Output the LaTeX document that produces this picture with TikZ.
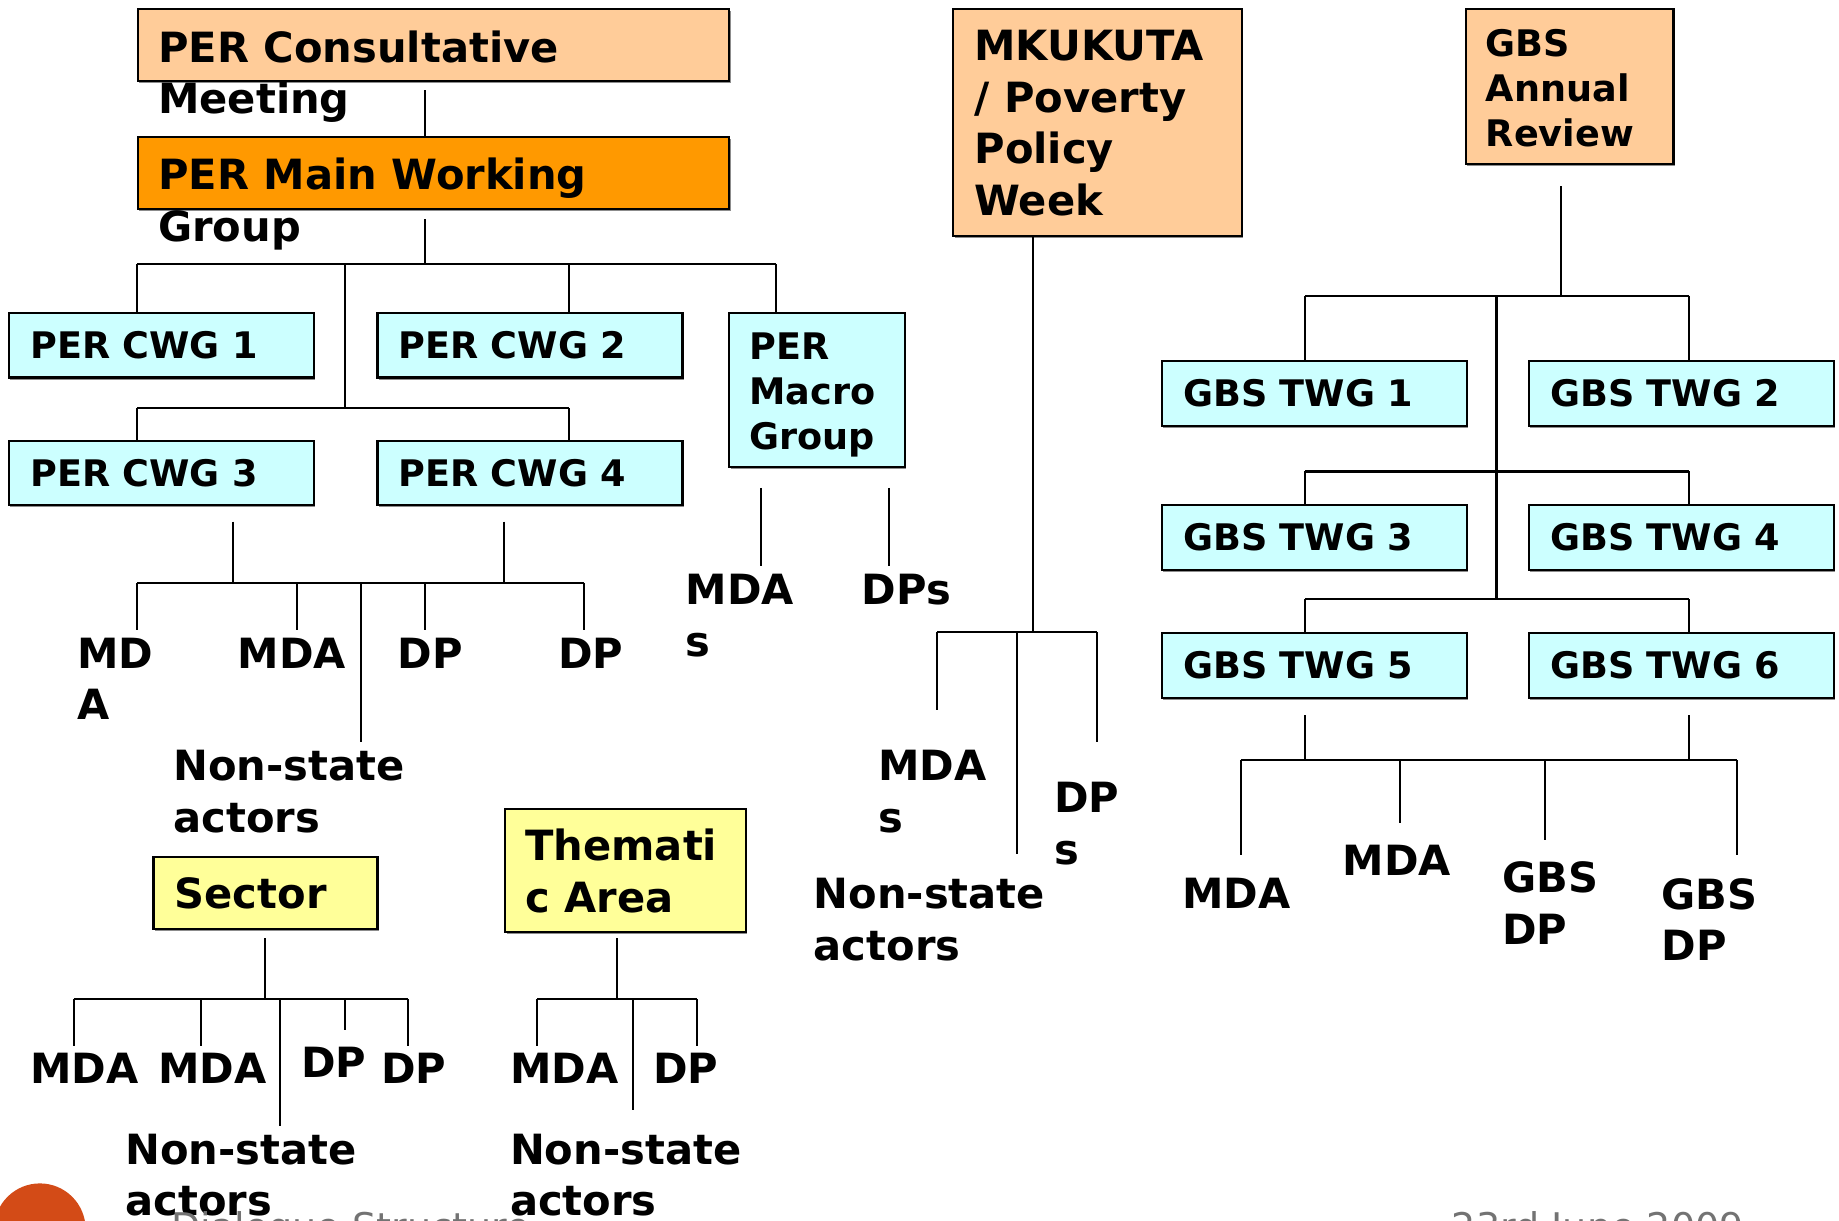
\documentclass[tikz,border=0pt]{standalone}
\usepackage{fontspec}
\setmainfont{DejaVu Sans}
\usetikzlibrary{shadows}
\definecolor{peach}{RGB}{255,204,153}
\definecolor{amber}{RGB}{255,153,0}
\definecolor{aqua}{RGB}{204,255,255}
\definecolor{lemon}{RGB}{255,255,153}
\definecolor{rust}{RGB}{211,75,23}

\begin{document}
\begin{tikzpicture}[x=1pt,y=-1pt,line width=1.8pt,
blk/.style={draw=black,line width=1.8pt,anchor=north west,inner sep=0pt,
  drop shadow={shadow xshift=1pt,shadow yshift=-1.8pt,fill=black!45,opacity=1}},
bigtxt/.style={font=\bfseries\fontsize{35.5}{44}\selectfont},
smalltxt/.style={font=\bfseries\fontsize{31.2}{38.5}\selectfont},
txt/.style={inner sep=0pt,anchor=north west,align=left},
twg/.style={blk,smalltxt,fill=aqua,text width=224pt,inner xsep=18pt,minimum height=55pt,align=left},
foot/.style={txt,font=\fontsize{32.5}{38}\selectfont,text=black!55}
]
\useasboundingbox (0,0) rectangle (1568,1041);
\clip (0,0) rectangle (1568,1041);

% top level boxes
\node[blk,fill=peach,minimum width=504pt,minimum height=61pt] (consult) at (117,7) {};
\node[txt,bigtxt] (consult-t) at (134,25) {PER Consultative\\Meeting};
\node[blk,fill=amber,minimum width=504pt,minimum height=61pt] (main) at (117,116) {};
\node[txt,bigtxt] (main-t) at (134,134) {PER Main Working\\Group};
\node[blk,fill=peach,minimum width=246pt,minimum height=193pt] (mkukuta) at (812,7) {};
\node[txt,bigtxt] (mkukuta-t) at (830,25) {MKUKUTA\\/ Poverty\\Policy\\Week};
\node[blk,fill=peach,minimum width=177pt,minimum height=132pt] (gbsar) at (1249,7) {};
\node[txt,smalltxt] (gbsar-t) at (1266,24) {GBS\\Annual\\Review};

% working groups
\node[twg] (cwg1) at (7,266) {PER CWG 1};
\node[twg] (cwg2) at (321,266) {PER CWG 2};
\node[twg] (cwg3) at (7,375) {PER CWG 3};
\node[twg] (cwg4) at (321,375) {PER CWG 4};
\node[blk,fill=aqua,minimum width=150pt,minimum height=131pt] (macro) at (621,266) {};
\node[txt,smalltxt] (macro-t) at (638,283) {PER\\Macro\\Group};
\node[twg] (twg1) at (990,307) {GBS TWG 1};
\node[twg] (twg2) at (1303,307) {GBS TWG 2};
\node[twg] (twg3) at (990,430) {GBS TWG 3};
\node[twg] (twg4) at (1303,430) {GBS TWG 4};
\node[twg] (twg5) at (990,539) {GBS TWG 5};
\node[twg] (twg6) at (1303,539) {GBS TWG 6};
\node[blk,bigtxt,fill=lemon,text width=155pt,inner xsep=18pt,minimum height=61pt,align=left] (sector) at (130,730) {Sector};
\node[blk,fill=lemon,minimum width=205pt,minimum height=105pt] (thema) at (430,689) {};
\node[txt,bigtxt] (thema-t) at (447,706) {Themati\\c Area};

% members
\node[txt,bigtxt] (mda1) at (65,543) {MD\\A};
\node[txt,bigtxt] (mda2) at (202,543) {MDA};
\node[txt,bigtxt] (dp1) at (338,543) {DP};
\node[txt,bigtxt] (dp2) at (475,543) {DP};
\node[txt,bigtxt] (nsa1) at (147,639) {Non-state\\actors};
\node[txt,bigtxt] (macro-mda) at (584,489) {MDA\\s};
\node[txt,bigtxt] (macro-dp) at (734,489) {DPs};
\node[txt,bigtxt] (mk-mda) at (748,639) {MDA\\s};
\node[txt,bigtxt] (mk-dp) at (898,666) {DP\\s};
\node[txt,bigtxt] (mk-nsa) at (693,748) {Non-state\\actors};
\node[txt,bigtxt] (gbs-mda1) at (1007,748) {MDA};
\node[txt,bigtxt] (gbs-mda2) at (1144,720) {MDA};
\node[txt,bigtxt] (gbs-dp1) at (1280,734) {GBS\\DP};
\node[txt,bigtxt] (gbs-dp2) at (1416,748) {GBS\\DP};
\node[txt,bigtxt] (sec-mda1) at (25,897) {MDA};
\node[txt,bigtxt] (sec-mda2) at (134,897) {MDA};
\node[txt,bigtxt] (sec-dp1) at (256,892) {DP};
\node[txt,bigtxt] (sec-dp2) at (324,897) {DP};
\node[txt,bigtxt] (sec-nsa) at (106,966) {Non-state\\actors};
\node[txt,bigtxt] (th-mda) at (434,897) {MDA};
\node[txt,bigtxt] (th-dp) at (556,897) {DP};
\node[txt,bigtxt] (th-nsa) at (434,966) {Non-state\\actors};

% PER tree
\coordinate (perbus) at (362,225);
\draw[shorten <=7pt] (consult.south -| perbus) -- (main.north -| perbus);
\draw[shorten <=8pt] (main.south -| perbus) -- (perbus);
\coordinate (p1) at (117,225);
\coordinate (p2) at (294,225);
\coordinate (p3) at (485,225);
\coordinate (p4) at (662,225);
\draw (p1) -- (p4);
\draw (p1) -- (p1 |- cwg1.north);
\draw (p3) -- (p3 |- cwg2.north);
\draw (p4) -- (p4 |- macro.north);
\coordinate (q1) at (117,348);
\coordinate (q2) at (294,348);
\coordinate (q3) at (485,348);
\draw (p2) -- (q2);
\draw (q1) -- (q3);
\draw (q1) -- (q1 |- cwg3.north);
\draw (q3) -- (q3 |- cwg4.north);

% CWG 3 and 4 members
\coordinate (c1) at (199,497);
\coordinate (c2) at (430,497);
\draw[shorten <=13pt] (cwg3.south -| c1) -- (c1);
\draw[shorten <=13pt] (cwg4.south -| c2) -- (c2);
\coordinate (s1) at (117,497);
\coordinate (s2) at (253,497);
\coordinate (s3) at (308,497);
\coordinate (s4) at (362,497);
\coordinate (s5) at (498,497);
\draw (s1) -- (s5);
\draw[shorten >=6pt] (s1) -- (s1 |- mda1.north);
\draw[shorten >=6pt] (s2) -- (s2 |- mda2.north);
\draw[shorten >=6pt] (s3) -- (s3 |- nsa1.north);
\draw[shorten >=6pt] (s4) -- (s4 |- dp1.north);
\draw[shorten >=6pt] (s5) -- (s5 |- dp2.north);

% macro group members
\coordinate (m1) at (649,416);
\coordinate (m2) at (758,416);
\draw[shorten >=6pt] (m1) -- (m1 |- macro-mda.north);
\draw[shorten >=6pt] (m2) -- (m2 |- macro-dp.north);

% MKUKUTA tree
\coordinate (k0) at (881,539);
\coordinate (k1) at (799,539);
\coordinate (k2) at (867,539);
\coordinate (k3) at (935,539);
\draw (mkukuta.south -| k0) -- (k0);
\draw (k1) -- (k3);
\draw[shorten >=34pt] (k1) -- (k1 |- mk-mda.north);
\draw[shorten >=20pt] (k2) -- (k2 |- mk-nsa.north);
\draw[shorten >=33pt] (k3) -- (k3 |- mk-dp.north);

% GBS tree
\coordinate (g0) at (1331,252);
\coordinate (g1) at (1113,252);
\coordinate (g2) at (1276,252);
\coordinate (g3) at (1440,252);
\draw[shorten <=18pt] (gbsar.south -| g0) -- (g0);
\draw (g1) -- (g3);
\draw (g1) -- (g1 |- twg1.north);
\draw (g3) -- (g3 |- twg2.north);
\coordinate (h1) at (1113,402);
\coordinate (h3) at (1440,402);
\coordinate (i1) at (1113,511);
\coordinate (i2) at (1276,511);
\coordinate (i3) at (1440,511);
\draw (g2) -- (i2);
\draw (h1) -- (h3);
\draw (h1) -- (h1 |- twg3.north);
\draw (h3) -- (h3 |- twg4.north);
\draw (i1) -- (i3);
\draw (i1) -- (i1 |- twg5.north);
\draw (i3) -- (i3 |- twg6.north);

% GBS TWG 5 and 6 members
\coordinate (t1) at (1113,648);
\coordinate (t2) at (1440,648);
\draw[shorten <=14pt] (twg5.south -| t1) -- (t1);
\draw[shorten <=14pt] (twg6.south -| t2) -- (t2);
\coordinate (u1) at (1058,648);
\coordinate (u2) at (1194,648);
\coordinate (u3) at (1317,648);
\coordinate (u4) at (1481,648);
\draw (u1) -- (u4);
\draw[shorten >=19pt] (u1) -- (u1 |- gbs-mda1.north);
\draw[shorten >=18pt] (u2) -- (u2 |- gbs-mda2.north);
\draw[shorten >=18pt] (u3) -- (u3 |- gbs-dp1.north);
\draw[shorten >=19pt] (u4) -- (u4 |- gbs-dp2.north);

% sector tree
\coordinate (e0) at (226,852);
\draw[shorten <=7pt] (sector.south -| e0) -- (e0);
\coordinate (e1) at (63,852);
\coordinate (e2) at (171,852);
\coordinate (e3) at (239,852);
\coordinate (e4) at (294,852);
\coordinate (e5) at (348,852);
\draw (e1) -- (e5);
\draw[shorten >=5pt] (e1) -- (e1 |- sec-mda1.north);
\draw[shorten >=5pt] (e2) -- (e2 |- sec-mda2.north);
\draw[shorten >=6pt] (e3) -- (e3 |- sec-nsa.north);
\draw[shorten >=14pt] (e4) -- (e4 |- sec-dp1.north);
\draw[shorten >=5pt] (e5) -- (e5 |- sec-dp2.north);

% thematic area tree
\coordinate (a0) at (526,852);
\draw[shorten <=4pt] (thema.south -| a0) -- (a0);
\coordinate (a1) at (458,852);
\coordinate (a2) at (540,852);
\coordinate (a3) at (594,852);
\draw (a1) -- (a3);
\draw[shorten >=5pt] (a1) -- (a1 |- th-mda.north);
\draw[shorten >=20pt] (a2) -- (a2 |- th-nsa.north);
\draw[shorten >=5pt] (a3) -- (a3 |- th-dp.north);

% footer
\fill[rust] (34,1048) circle (39pt);
\node[foot] (foot-l) at (145,1032) {Dialogue Structure};
\node[foot] (foot-r) at (1237,1032) {23rd June 2009};
\end{tikzpicture}
\end{document}
